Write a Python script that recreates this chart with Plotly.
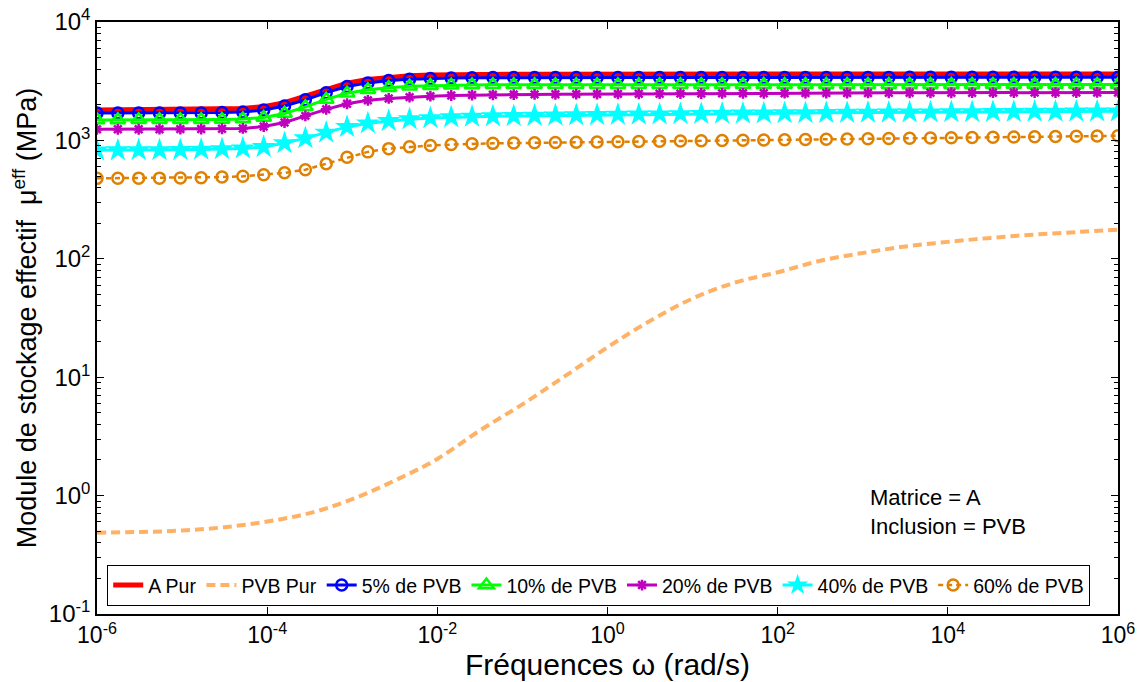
import numpy as np
import plotly.graph_objects as go

# ---------------- data ----------------
freq = np.logspace(-6, 6, 50)          # frequency grid (rad/s)
pvb_freq = np.logspace(-6, 6, 25)

a_pur = [1810, 1812, 1814, 1816, 1818,
         1822, 1840, 1860, 1930, 2080,
         2360, 2700, 3040, 3270, 3420,
         3510, 3560, 3590, 3605, 3615,
         3620, 3622, 3624, 3626, 3627, 3628, 3629, 3630, 3631, 3632,
         3632, 3633, 3633, 3634, 3634, 3635, 3635, 3636, 3636, 3637,
         3637, 3638, 3638, 3638, 3639, 3639, 3639, 3640, 3640, 3640]

pvb_pur = [0.486, 0.493, 0.507, 0.541, 0.604, 0.711, 0.933, 1.34, 2.04, 3.55,
           5.9, 10.2, 17.9, 29.9, 46.2, 63.1, 76.9, 96.2, 112, 127,
           139, 150, 160, 168, 176]

pvb5 = [1700, 1700, 1701, 1702, 1703,
        1705, 1720, 1740, 1805, 1950,
        2200, 2530, 2850, 3060, 3200,
        3290, 3340, 3370, 3385, 3393,
        3397, 3399, 3400, 3400, 3401, 3401, 3402, 3402, 3403, 3403,
        3404, 3404, 3404, 3405, 3405, 3405, 3406, 3406, 3406, 3407,
        3407, 3407, 3408, 3408, 3408, 3409, 3409, 3409, 3410, 3410]

pvb10 = [1490, 1490, 1491, 1492, 1493,
         1495, 1503, 1515, 1560, 1690,
         1920, 2220, 2500, 2680, 2790,
         2860, 2900, 2925, 2940, 2946,
         2950, 2951, 2952, 2952, 2953, 2953, 2954, 2954, 2954, 2955,
         2955, 2955, 2956, 2956, 2956, 2957, 2957, 2957, 2957, 2958,
         2958, 2958, 2958, 2959, 2959, 2959, 2959, 2960, 2960, 2960]

pvb20 = [1240, 1241, 1242, 1243, 1245,
         1248, 1254, 1262, 1310, 1415,
         1610, 1830, 2040, 2180, 2260,
         2320, 2365, 2395, 2415, 2428,
         2438, 2446, 2453, 2459, 2465, 2470, 2475, 2480, 2485, 2490,
         2494, 2498, 2502, 2505, 2508, 2511, 2514, 2517, 2520, 2522,
         2524, 2526, 2528, 2530, 2532, 2534, 2536, 2538, 2540, 2542]

pvb40 = [825, 826, 827, 828, 830,
         837, 845, 856, 880, 948,
         1045, 1165, 1300, 1395, 1460,
         1510, 1545, 1570, 1588, 1600,
         1608, 1616, 1624, 1632, 1640, 1648, 1655, 1662, 1669, 1676,
         1682, 1688, 1693, 1698, 1703, 1708, 1712, 1716, 1720, 1724,
         1728, 1732, 1736, 1740, 1744, 1748, 1751, 1754, 1757, 1760]

pvb60 = [478, 479, 480, 480, 481,
         483, 490, 497, 513, 532,
         566, 635, 722, 800, 852,
         882, 905, 922, 936, 944,
         949, 954, 959, 964, 969, 974, 979, 984, 989, 994,
         999, 1004, 1009, 1014, 1019, 1024, 1029, 1034, 1039, 1044,
         1049, 1054, 1059, 1064, 1069, 1074, 1079, 1084, 1089, 1094]

x_tick_exp = [-6, -4, -2, 0, 2, 4, 6]
y_tick_exp = [-1, 0, 1, 2, 3, 4]

# ---------------- figure ----------------
FONT = "Liberation Sans, Arial, Helvetica, sans-serif"
NARROW = "Liberation Sans Narrow, Arial Narrow, Liberation Sans, Arial, sans-serif"

fig = go.Figure()

fig.add_trace(go.Scatter(x=freq, y=a_pur, name="A Pur", mode="lines",
                         line=dict(color="#FF0000", width=5)))
fig.add_trace(go.Scatter(x=pvb_freq, y=pvb_pur, name="PVB Pur", mode="lines",
                         line=dict(color="#FFB266", width=4, dash="9px,5px",
                                   shape="spline")))
fig.add_trace(go.Scatter(x=freq, y=pvb5, name="5% de PVB", mode="lines+markers",
                         line=dict(color="#0000FF", width=3),
                         marker=dict(symbol="circle-open", size=11,
                                     line=dict(width=2.5, color="#0000FF"))))
fig.add_trace(go.Scatter(x=freq, y=pvb10, name="10% de PVB", mode="lines+markers",
                         line=dict(color="#00FF00", width=3),
                         marker=dict(symbol="triangle-up-open", size=13,
                                     line=dict(width=2.5, color="#00FF00"))))
fig.add_trace(go.Scatter(x=freq, y=pvb20, name="20% de PVB", mode="lines+markers",
                         line=dict(color="#BF00BF", width=3),
                         marker=dict(symbol="asterisk-open", size=9,
                                     line=dict(width=2.5, color="#BF00BF"))))
fig.add_trace(go.Scatter(x=freq, y=pvb40, name="40% de PVB", mode="lines+markers",
                         line=dict(color="#00FFFF", width=3),
                         marker=dict(symbol="star", size=18, color="#00FFFF",
                                     line=dict(width=0))))
fig.add_trace(go.Scatter(x=freq, y=pvb60, name="60% de PVB", mode="lines+markers",
                         line=dict(color="#E08000", width=2.5, dash="5px,4px"),
                         marker=dict(symbol="circle-open", size=11,
                                     line=dict(width=2.5, color="#E08000"))))

y_minor = [m * 10.0 ** e for e in range(-1, 4) for m in range(2, 10)]

fig.update_layout(
    width=1143, height=682,
    margin=dict(l=97, r=25, t=22, b=68, autoexpand=False),
    paper_bgcolor="white", plot_bgcolor="white",
    font=dict(family=FONT, size=22, color="black"),
    showlegend=True,
    legend=dict(orientation="h", x=0.01, y=0.083, xanchor="left", yanchor="top",
                bgcolor="white", bordercolor="black", borderwidth=1,
                font=dict(family=FONT, size=19.5, color="black"),
                itemwidth=30, tracegroupgap=0),
    xaxis=dict(type="log", range=[-6, 6], automargin=False,
               tickmode="array",
               tickvals=[10.0 ** e for e in x_tick_exp],
               ticktext=["10<sup>%d</sup>" % e for e in x_tick_exp],
               ticks="inside", ticklen=7, tickcolor="black", tickwidth=1,
               showline=True, linecolor="black", linewidth=1.5, mirror="ticks",
               showgrid=False, zeroline=False,
               tickfont=dict(family=NARROW, size=23),
               title=dict(text="Fréquences ω (rad/s)",
                          font=dict(family=NARROW, size=30), standoff=0)),
    yaxis=dict(type="log", range=[-1, 4], automargin=False,
               tickmode="array",
               tickvals=[10.0 ** e for e in y_tick_exp],
               ticktext=["10<sup>%d</sup>" % e for e in y_tick_exp],
               ticks="inside", ticklen=7, tickcolor="black", tickwidth=1,
               showline=True, linecolor="black", linewidth=1.5, mirror="ticks",
               showgrid=False, zeroline=False,
               tickfont=dict(family=FONT, size=24),
               minor=dict(tickmode="array", tickvals=y_minor, ticks="inside",
                          ticklen=4, tickcolor="black", showgrid=False),
               title=dict(text="Module de stockage effectif  μ<sup>eff</sup> (MPa)",
                          font=dict(family=FONT, size=27), standoff=4)),
)

fig.add_annotation(x=0.755, y=0.222, xref="paper", yref="paper",
                   xanchor="left", yanchor="top", align="left", showarrow=False,
                   text="Matrice = A<br>Inclusion = PVB",
                   font=dict(family=FONT, size=22, color="black"))

fig.write_html("out.html",
               config={"displayModeBar": False},
               post_script="document.body.style.margin='0px';"
                           "document.body.style.overflow='hidden';")
